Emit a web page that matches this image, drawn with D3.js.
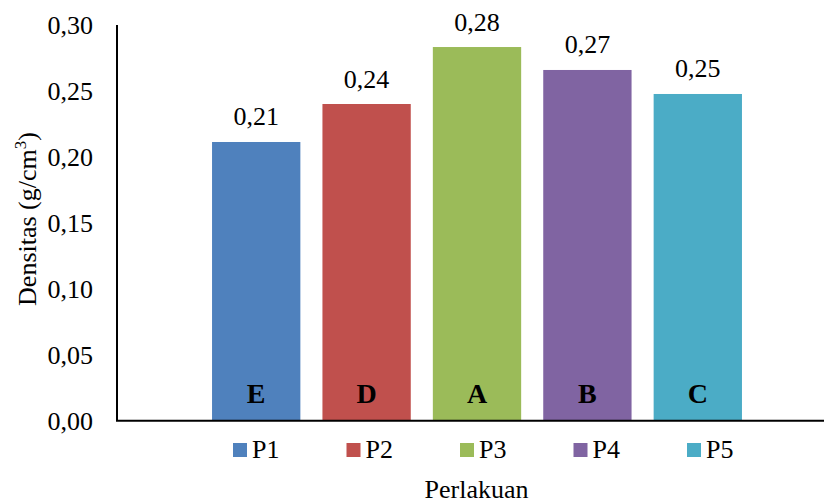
<!DOCTYPE html>
<html>
<head>
<meta charset="utf-8">
<script src="https://cdn.jsdelivr.net/npm/d3@7"></script>
<style>
  html, body { margin: 0; padding: 0; background: #fff; }
  svg { display: block; }
  text { font-family: "Liberation Serif", "Times New Roman", serif; fill: #000; }
</style>
</head>
<body>
<svg id="chart" width="824" height="503"></svg>
<script>
// Treatments (series), their densities and significance letters
const treatments = ["P1", "P2", "P3", "P4", "P5"];
const density = [0.2113, 0.2401, 0.2833, 0.2659, 0.2477];
const letters = ["E", "D", "A", "B", "C"];
const colors = ["#4F81BD", "#C0504D", "#9BBB59", "#8064A2", "#4BACC6"];
const yTicks = [0, 0.05, 0.10, 0.15, 0.20, 0.25, 0.30];

const svg = d3.select("#chart");
const fmt = v => d3.format(".2f")(v).replace(".", ",");

const plot = { left: 117, right: 836, top: 25, bottom: 420.7 };

const y = d3.scaleLinear().domain([0, 0.30]).range([plot.bottom, plot.top]);

// single category group holding the five treatment bars
const x = d3.scaleBand()
  .domain(treatments)
  .range([201, 753])
  .paddingInner(0.2)
  .paddingOuter(0.1);

const rows = treatments.map((t, i) => ({ t, v: density[i], letter: letters[i], color: colors[i] }));

// bars
svg.append("g").selectAll("rect")
  .data(rows).join("rect")
  .attr("x", d => x(d.t))
  .attr("y", d => y(d.v))
  .attr("width", x.bandwidth())
  .attr("height", d => y(0) - y(d.v))
  .attr("fill", d => d.color);

// value labels above bars
svg.append("g").selectAll("text")
  .data(rows).join("text")
  .attr("x", d => x(d.t) + x.bandwidth() / 2)
  .attr("y", d => y(d.v) - 16.5)
  .attr("text-anchor", "middle")
  .style("font-size", "26px")
  .text(d => fmt(d.v));

// significance letters at bar bases
svg.append("g").selectAll("text")
  .data(rows).join("text")
  .attr("x", d => x(d.t) + x.bandwidth() / 2)
  .attr("y", y(0) - 17.5)
  .attr("text-anchor", "middle")
  .style("font-size", "28px")
  .style("font-weight", "bold")
  .text(d => d.letter);

// y axis
const yAxis = d3.axisLeft(y).tickValues(yTicks).tickFormat(fmt).tickSize(0).tickPadding(24);
const gy = svg.append("g").attr("transform", `translate(${plot.left},0)`).call(yAxis);
gy.select(".domain").remove();
gy.selectAll("text")
  .attr("dy", null)
  .attr("y", 8.6)
  .style("font-family", "Liberation Serif, serif")
  .style("font-size", "26px")
  .attr("fill", "#000");

svg.append("line")
  .attr("x1", plot.left).attr("x2", plot.left)
  .attr("y1", plot.top).attr("y2", plot.bottom)
  .attr("stroke", "#000").attr("stroke-width", 2);

// x axis baseline
svg.append("line")
  .attr("x1", plot.left - 1).attr("x2", 824)
  .attr("y1", plot.bottom).attr("y2", plot.bottom)
  .attr("stroke", "#000").attr("stroke-width", 2);

// y axis title
const yt = svg.append("text")
  .attr("transform", `translate(36,219) rotate(-90)`)
  .attr("text-anchor", "middle")
  .style("font-size", "26px");
yt.append("tspan").text("Densitas (g/cm");
yt.append("tspan").attr("dy", -10).style("font-size", "17px").text("3");
yt.append("tspan").attr("dy", 10).text(")");

// legend
const legend = svg.append("g").selectAll("g")
  .data(rows).join("g")
  .attr("transform", (d, i) => `translate(${233 + i * 113.5},443)`);
legend.append("rect")
  .attr("width", 14).attr("height", 14)
  .attr("fill", d => d.color);
legend.append("text")
  .attr("x", 19).attr("y", 15.3)
  .style("font-size", "26px")
  .text(d => d.t);

// x axis title
svg.append("text")
  .attr("x", 476.5).attr("y", 498)
  .attr("text-anchor", "middle")
  .style("font-size", "26px")
  .text("Perlakuan");
</script>
</body>
</html>
